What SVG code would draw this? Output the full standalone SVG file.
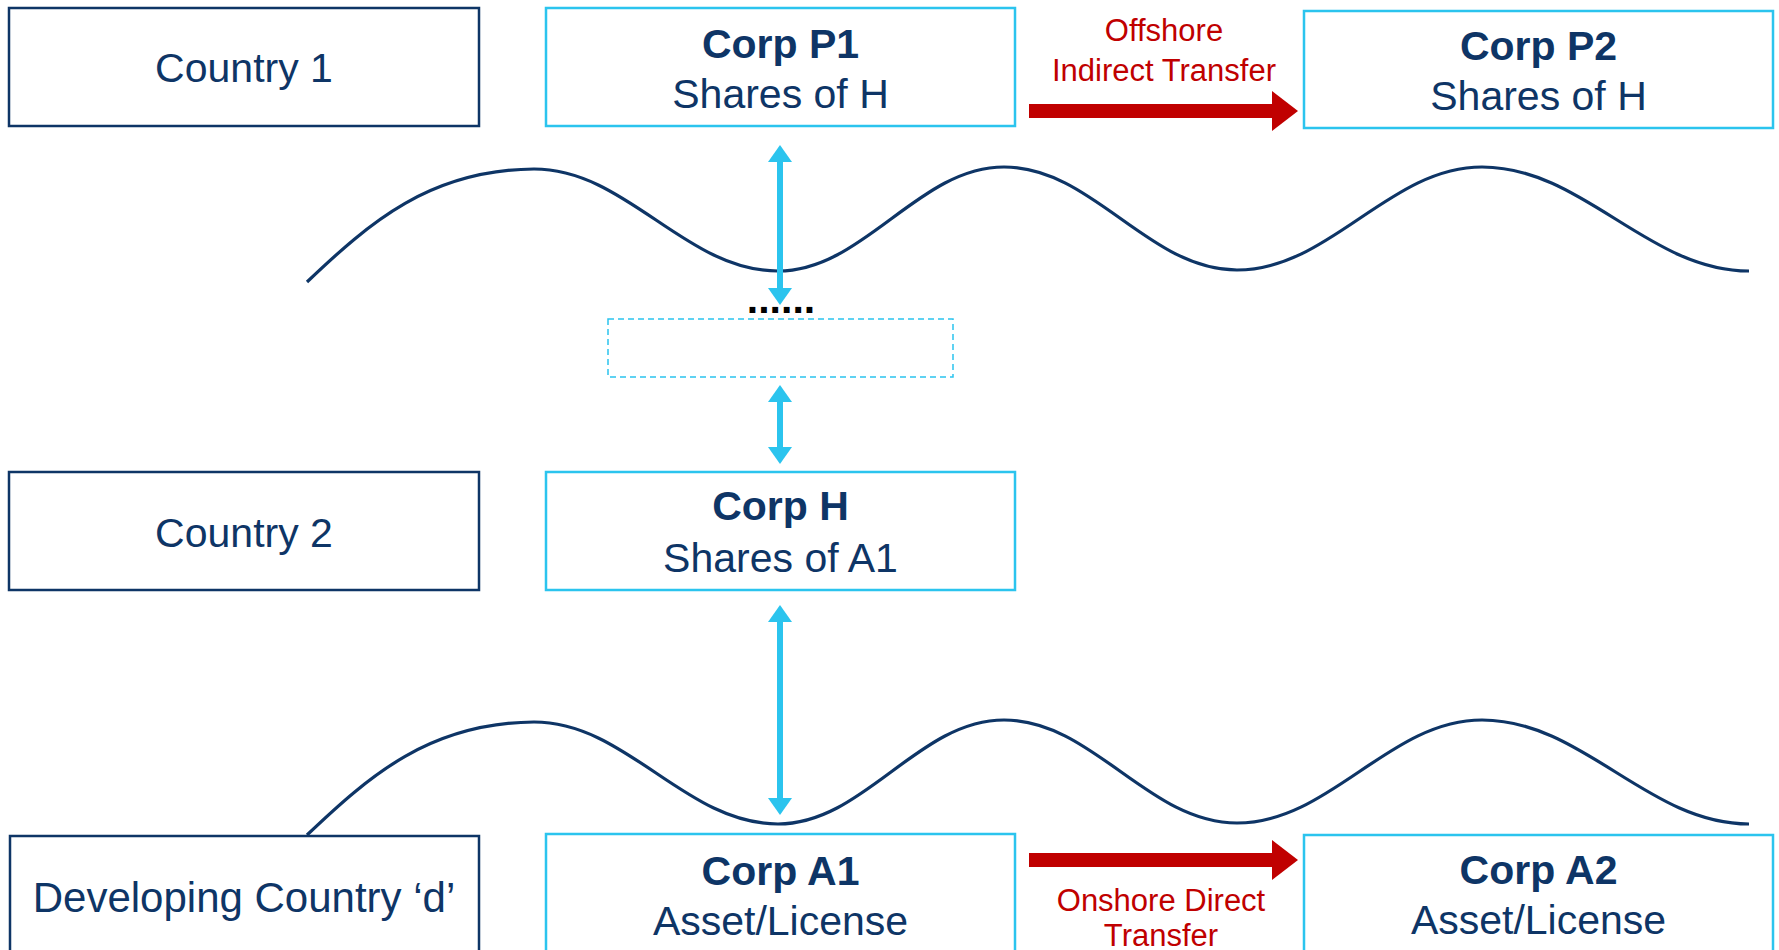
<svg xmlns="http://www.w3.org/2000/svg" width="1779" height="950" viewBox="0 0 1779 950">
  <style>
    .bg { fill: #ffffff; }
    .country { fill: #ffffff; stroke: #0E3566; stroke-width: 2.5; }
    .corp { fill: #ffffff; stroke: #2BC4EE; stroke-width: 2.5; }
    .dashed { fill: none; stroke: #2BC4EE; stroke-width: 1.5; stroke-dasharray: 6 4; }
    .wave { fill: none; stroke: #0E3566; stroke-width: 3.2; stroke-linecap: butt; }
    .t { font-family: "Liberation Sans", Arial, sans-serif; font-size: 41px; fill: #0E3566; text-anchor: middle; }
    .b { font-weight: bold; }
    .red { font-family: "Liberation Sans", Arial, sans-serif; font-size: 31px; fill: #C00000; text-anchor: middle; }
    .dots { font-family: "Liberation Sans", Arial, sans-serif; font-size: 41px; font-weight: bold; fill: #000000; text-anchor: middle; }
    .blue { stroke: #2BC4EE; stroke-width: 6; fill: none; }
    .redarrow { stroke: #C00000; stroke-width: 14; fill: none; }
  </style>
  <defs>
    <marker id="bh" viewBox="0 0 17 24" refX="7" refY="12" markerWidth="17" markerHeight="24" markerUnits="userSpaceOnUse" orient="auto-start-reverse">
      <path d="M0,0 L17,12 L0,24 z" fill="#2BC4EE"/>
    </marker>
    <marker id="rh" viewBox="0 0 26 40" refX="0" refY="20" markerWidth="26" markerHeight="40" markerUnits="userSpaceOnUse" orient="auto">
      <path d="M0,0 L26,20 L0,40 z" fill="#C00000"/>
    </marker>
    <path id="wavePath" d="M307,282 C370,222 430,170 534,169 C627,169 685,271 778,271 C864,271 918,167 1004,167 C1093,167 1148,270 1237,270 C1330,270 1389,167 1482,167 C1583,167 1648,271 1749,271"/>
  </defs>

  <rect class="bg" x="0" y="0" width="1779" height="950"/>

  <g id="waves">
    <use href="#wavePath" class="wave"/>
    <use href="#wavePath" class="wave" transform="translate(0,553)"/>
  </g>

  <g id="country1">
    <rect class="country" x="9" y="8" width="470" height="118"/>
    <text class="t" x="244" y="82">Country 1</text>
  </g>
  <g id="corpP1">
    <rect class="corp" x="546" y="8" width="469" height="118"/>
    <text class="t b" x="780.5" y="58">Corp P1</text>
    <text class="t" x="780.5" y="108">Shares of H</text>
  </g>
  <g id="corpP2">
    <rect class="corp" x="1304" y="11" width="469" height="117"/>
    <text class="t b" x="1538.5" y="60">Corp P2</text>
    <text class="t" x="1538.5" y="110">Shares of H</text>
  </g>
  <g id="intermediate">
    <rect class="dashed" x="608" y="319" width="345" height="58"/>
    <text class="dots" x="781" y="313">......</text>
  </g>
  <g id="country2">
    <rect class="country" x="9" y="472" width="470" height="118"/>
    <text class="t" x="244" y="547">Country 2</text>
  </g>
  <g id="corpH">
    <rect class="corp" x="546" y="472" width="469" height="118"/>
    <text class="t b" x="780.5" y="520">Corp H</text>
    <text class="t" x="780.5" y="572">Shares of A1</text>
  </g>
  <g id="countryD">
    <rect class="country" x="10" y="836" width="469" height="130"/>
    <text class="t" x="244" y="912" style="font-size:42px">Developing Country ‘d’</text>
  </g>
  <g id="corpA1">
    <rect class="corp" x="546" y="834" width="469" height="130"/>
    <text class="t b" x="780.5" y="885">Corp A1</text>
    <text class="t" x="780.5" y="935">Asset/License</text>
  </g>
  <g id="corpA2">
    <rect class="corp" x="1304" y="835" width="469" height="130"/>
    <text class="t b" x="1538.5" y="884">Corp A2</text>
    <text class="t" x="1538.5" y="934">Asset/License</text>
  </g>

  <g id="connectors">
    <line class="blue" x1="780" y1="155" x2="780" y2="295" marker-start="url(#bh)" marker-end="url(#bh)"/>
    <line class="blue" x1="780" y1="395" x2="780" y2="454" marker-start="url(#bh)" marker-end="url(#bh)"/>
    <line class="blue" x1="780" y1="615" x2="780" y2="805" marker-start="url(#bh)" marker-end="url(#bh)"/>
    <line class="redarrow" x1="1029" y1="111" x2="1272" y2="111" marker-end="url(#rh)"/>
    <line class="redarrow" x1="1029" y1="860" x2="1272" y2="860" marker-end="url(#rh)"/>
    <text class="red" x="1164" y="41">Offshore</text>
    <text class="red" x="1164" y="81">Indirect Transfer</text>
    <text class="red" x="1161" y="911">Onshore Direct</text>
    <text class="red" x="1161" y="946">Transfer</text>
  </g>
</svg>
